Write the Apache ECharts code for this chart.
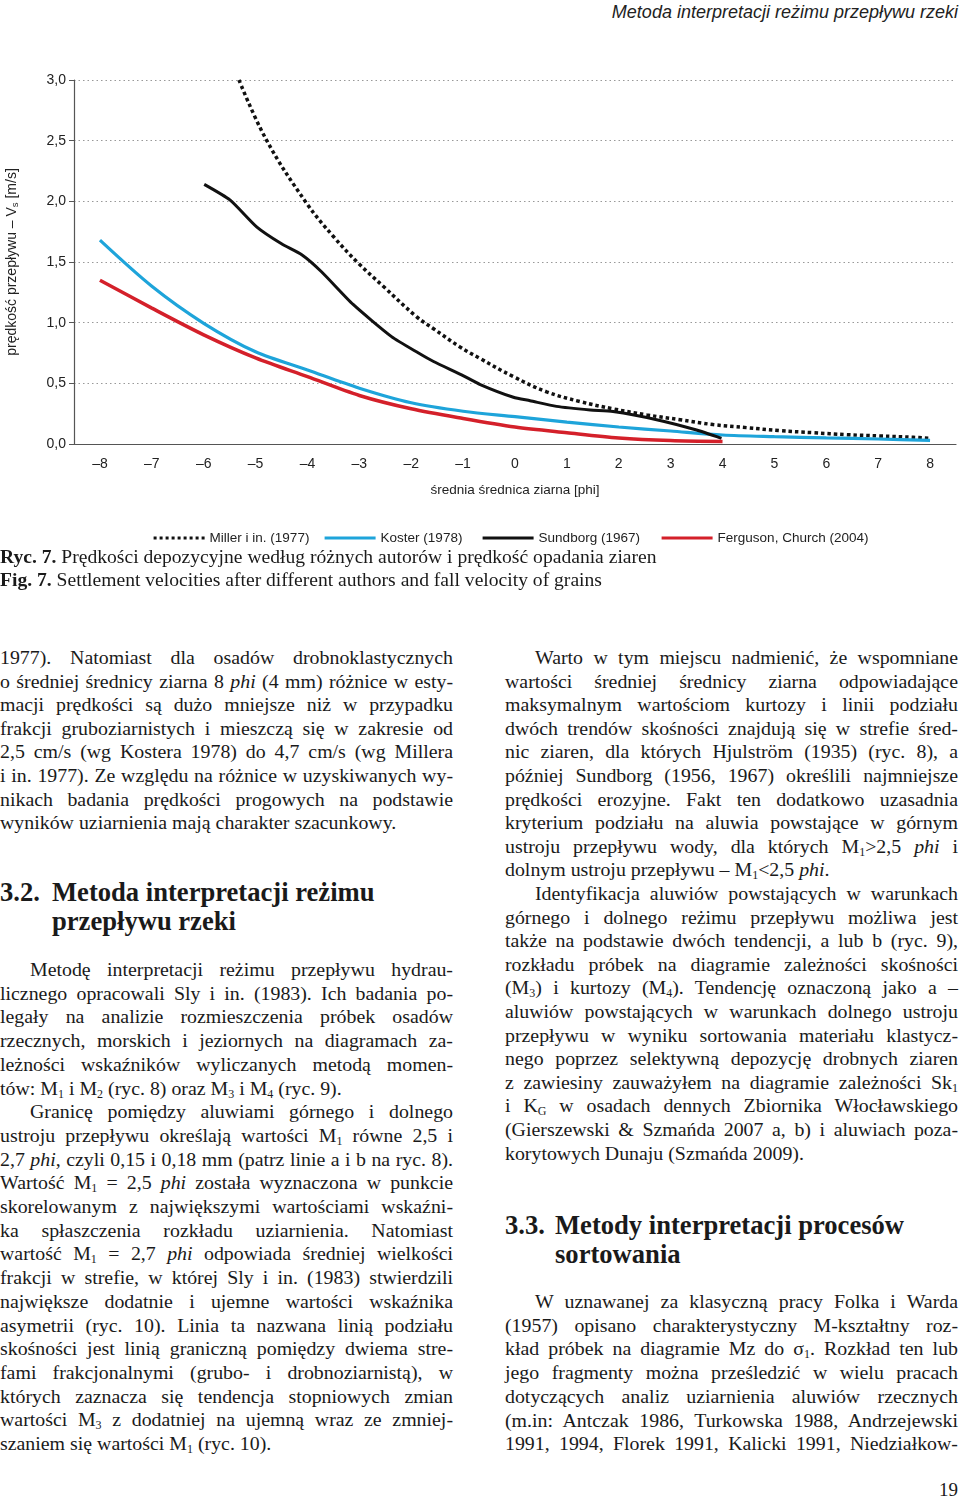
<!DOCTYPE html>
<html><head><meta charset="utf-8">
<script src="https://cdn.jsdelivr.net/npm/echarts@6/dist/echarts.min.js"></script>
<style>
html,body{margin:0;padding:0;background:#fff;}
body{width:960px;height:1499px;position:relative;overflow:hidden;font-family:"Liberation Serif","Times New Roman",serif;color:#1a1a1a;}
#chart{position:absolute;left:0;top:0;width:960px;height:610px;}
.hdr{position:absolute;right:2px;top:0;font:italic 18px "Liberation Sans",Arial,sans-serif;line-height:24px;color:#222;}
.ln{position:absolute;height:24px;line-height:24px;white-space:nowrap;text-align:justify;text-align-last:justify;}
.ln.last{text-align:left;text-align-last:left;}
.hd{position:absolute;font-weight:bold;font-size:26.6px;line-height:29px;white-space:nowrap;}
.cap{position:absolute;left:0;font-size:19.6px;line-height:23px;white-space:nowrap;}
sub{font-size:12px;vertical-align:-3px;line-height:0;}
.pg{position:absolute;right:2px;top:1478px;font-size:19px;line-height:24px;}
.meas{position:absolute;visibility:hidden;white-space:nowrap;left:0;top:0;}
</style>
</head><body>
<div class="hdr">Metoda interpretacji reżimu przepływu rzeki</div>
<div id="chart"></div>
<div class="cap" style="top:545px"><b>Ryc. 7.</b> Prędkości depozycyjne według różnych autorów i prędkość opadania ziaren</div>
<div class="cap" style="top:568px"><b>Fig. 7.</b> Settlement velocities after different authors and fall velocity of grains</div>
<div class="hd" style="left:0;top:878px">3.2.</div>
<div class="hd" style="left:52px;top:878px">Metoda interpretacji reżimu</div>
<div class="hd" style="left:52px;top:907px">przepływu rzeki</div>
<div class="hd" style="left:505px;top:1211px">3.3.</div>
<div class="hd" style="left:555px;top:1211px">Metody interpretacji procesów</div>
<div class="hd" style="left:555px;top:1240px">sortowania</div>
<div class="pg">19</div>
<div id="text"></div>
<script>
// ---- chart data ----
var xTickLabels = ['–8','–7','–6','–5','–4','–3','–2','–1','0','1','2','3','4','5','6','7','8'];

var millerPhi = [-5.32, -4.79, -4.01, -3.50, -3.02, -2.54, -1.90, -1.57, -1.06, -0.675, -0.03, 0.61, 1.25, 1.89, 2.54, 3.18, 3.82, 4.46, 5.11, 5.75, 6.39, 7.03, 7.68, 8.0];
var millerV   = [3.00, 2.505, 1.98, 1.71, 1.49, 1.30, 1.05, 0.95, 0.80, 0.705, 0.555, 0.43, 0.35, 0.29, 0.24, 0.20, 0.16, 0.135, 0.11, 0.093, 0.077, 0.066, 0.055, 0.047];

var kosterPhi = [-8, -7, -6, -5, -4, -3, -2, -1, 0, 1, 2, 3, 4, 5, 6, 7, 8];
var kosterV   = [1.68, 1.30, 0.995, 0.76, 0.61, 0.46, 0.34, 0.27, 0.225, 0.18, 0.14, 0.107, 0.074, 0.06, 0.05, 0.041, 0.03];

var sundborgPhi = [-5.99, -5.49, -4.98, -4.50, -4.11, -3.73, -3.12, -2.38, -1.86, -1.57, -1.03, -0.67, -0.03, 0.29, 0.80, 1.45, 1.89, 2.73, 3.50, 3.98];
var sundborgV   = [2.14, 2.01, 1.79, 1.65, 1.56, 1.42, 1.15, 0.885, 0.75, 0.68, 0.57, 0.49, 0.385, 0.357, 0.31, 0.28, 0.267, 0.20, 0.115, 0.047];

var fergusonPhi = [-8, -7, -6, -5, -4, -3, -2, -1, 0, 1, 2, 3, 4];
var fergusonV   = [1.35, 1.12, 0.90, 0.71, 0.555, 0.40, 0.29, 0.21, 0.14, 0.093, 0.05, 0.028, 0.02];

var seriesNames = ['Miller i in. (1977)', 'Koster (1978)', 'Sundborg (1967)', 'Ferguson, Church (2004)'];

function zip(a, b){ return a.map(function(v, i){ return [v, b[i]]; }); }

var chart = echarts.init(document.getElementById('chart'), null, {renderer:'canvas'});
var sans = '"Liberation Sans", Arial, sans-serif';
var legendLeft = [147, 318, 476, 655];
var legendDash = [[3,3], 'solid', 'solid', 'solid'];
chart.setOption({
  animation:false,
  grid:{left:74, right:4, top:80, height:364, containLabel:false, outerBoundsMode:'none'},
  legend: seriesNames.map(function(n, i){
    return {data:[n], left:legendLeft[i], top:526, itemWidth:51, itemHeight:14, itemGap:0,
      itemStyle:{opacity:0},
      lineStyle:{width:3.2, type:legendDash[i]},
      textStyle:{fontFamily:sans, fontSize:13.5, color:'#222'}};
  }),
  xAxis:[{
    type:'category', data:xTickLabels, boundaryGap:true, position:'bottom',
    axisLine:{onZero:false, lineStyle:{color:'#555', width:1.2}},
    axisTick:{length:6, lineStyle:{color:'#555'}},
    axisLabel:{fontFamily:sans, fontSize:14, color:'#222', margin:13},
    name:'średnia średnica ziarna [phi]', nameLocation:'middle', nameGap:39,
    nameTextStyle:{fontFamily:sans, fontSize:13.5, color:'#222'}
  },{
    type:'value', min:-8.5, max:8.5, show:false, axisLine:{show:false, onZero:false}
  }],
  yAxis:{
    type:'value', min:0, max:3, interval:0.5,
    axisLine:{show:true, onZero:false, lineStyle:{color:'#555', width:1.2}},
    axisTick:{show:true, length:5, lineStyle:{color:'#555'}},
    axisLabel:{fontFamily:sans, fontSize:14, color:'#222', margin:8,
      formatter:function(v){ return v.toFixed(1).replace('.', ','); }},
    splitLine:{show:true, lineStyle:{color:'#999', type:[1.5,3], width:1}},
    name:'{n|prędkość przepływu – V}{s|s}{n| [m/s]}', nameLocation:'middle', nameGap:54, nameRotate:90,
    nameTextStyle:{fontFamily:sans, fontSize:14, color:'#222',
      rich:{n:{fontFamily:sans, fontSize:14, color:'#222'}, s:{fontFamily:sans, fontSize:9.5, color:'#222', padding:[5,0,0,0]}}}
  },
  series:[
    {name:seriesNames[0], type:'line', xAxisIndex:1, data:zip(millerPhi, millerV), smooth:0.4, showSymbol:false, symbol:'none',
      lineStyle:{color:'#111', width:3.5, type:[3.5,3]}, itemStyle:{color:'#111'}},
    {name:seriesNames[1], type:'line', xAxisIndex:1, data:zip(kosterPhi, kosterV), smooth:0.3, showSymbol:false, symbol:'none',
      lineStyle:{color:'#1ea4da', width:3.2}, itemStyle:{color:'#1ea4da'}},
    {name:seriesNames[2], type:'line', xAxisIndex:1, data:zip(sundborgPhi, sundborgV), smooth:0.2, showSymbol:false, symbol:'none',
      lineStyle:{color:'#111', width:3}, itemStyle:{color:'#111'}},
    {name:seriesNames[3], type:'line', xAxisIndex:1, data:zip(fergusonPhi, fergusonV), smooth:0.3, showSymbol:false, symbol:'none',
      lineStyle:{color:'#d4202a', width:3.5}, itemStyle:{color:'#d4202a'}}
  ]
});

// ---- page text ----
var leftA = [
 '1977). Natomiast dla osadów drobnoklastycznych',
 'o średniej średnicy ziarna 8 <i>phi</i> (4 mm) różnice w esty-',
 'macji prędkości są dużo mniejsze niż w przypadku',
 'frakcji gruboziarnistych i mieszczą się w zakresie od',
 '2,5 cm/s (wg Kostera 1978) do 4,7 cm/s (wg Millera',
 'i in. 1977). Ze względu na różnice w uzyskiwanych wy-',
 'nikach badania prędkości progowych na podstawie',
 'wyników uziarnienia mają charakter szacunkowy.|'
];
var leftB = [
 '>Metodę interpretacji reżimu przepływu hydrau-',
 'licznego opracowali Sly i in. (1983). Ich badania po-',
 'legały na analizie rozmieszczenia próbek osadów',
 'rzecznych, morskich i jeziornych na diagramach za-',
 'leżności wskaźników wyliczanych metodą momen-',
 'tów: M<sub>1</sub> i M<sub>2</sub> (ryc. 8) oraz M<sub>3</sub> i M<sub>4</sub> (ryc. 9).|',
 '>Granicę pomiędzy aluwiami górnego i dolnego',
 'ustroju przepływu określają wartości M<sub>1</sub> równe 2,5 i',
 '2,7 <i>phi</i>, czyli 0,15 i 0,18 mm (patrz linie a i b na ryc. 8).',
 'Wartość M<sub>1</sub> = 2,5 <i>phi</i> została wyznaczona w punkcie',
 'skorelowanym z największymi wartościami wskaźni-',
 'ka spłaszczenia rozkładu uziarnienia. Natomiast',
 'wartość M<sub>1</sub> = 2,7 <i>phi</i> odpowiada średniej wielkości',
 'frakcji w strefie, w której Sly i in. (1983) stwierdzili',
 'największe dodatnie i ujemne wartości wskaźnika',
 'asymetrii (ryc. 10). Linia ta nazwana linią podziału',
 'skośności jest linią graniczną pomiędzy dwiema stre-',
 'fami frakcjonalnymi (grubo- i drobnoziarnistą), w',
 'których zaznacza się tendencja stopniowych zmian',
 'wartości M<sub>3</sub> z dodatniej na ujemną wraz ze zmniej-',
 'szaniem się wartości M<sub>1</sub> (ryc. 10).|'
];
var rightA = [
 '>Warto w tym miejscu nadmienić, że wspomniane',
 'wartości średniej średnicy ziarna odpowiadające',
 'maksymalnym wartościom kurtozy i linii podziału',
 'dwóch trendów skośności znajdują się w strefie śred-',
 'nic ziaren, dla których Hjulström (1935) (ryc. 8), a',
 'później Sundborg (1956, 1967) określili najmniejsze',
 'prędkości erozyjne. Fakt ten dodatkowo uzasadnia',
 'kryterium podziału na aluwia powstające w górnym',
 'ustroju przepływu wody, dla których M<sub>1</sub>&gt;2,5 <i>phi</i> i',
 'dolnym ustroju przepływu – M<sub>1</sub>&lt;2,5 <i>phi</i>.|',
 '>Identyfikacja aluwiów powstających w warunkach',
 'górnego i dolnego reżimu przepływu możliwa jest',
 'także na podstawie dwóch tendencji, a lub b (ryc. 9),',
 'rozkładu próbek na diagramie zależności skośności',
 '(M<sub>3</sub>) i kurtozy (M<sub>4</sub>). Tendencję oznaczoną jako a –',
 'aluwiów powstających w warunkach dolnego ustroju',
 'przepływu w wyniku sortowania materiału klastycz-',
 'nego poprzez selektywną depozycję drobnych ziaren',
 'z zawiesiny zauważyłem na diagramie zależności Sk<sub>1</sub>',
 'i K<sub>G</sub> w osadach dennych Zbiornika Włocławskiego',
 '(Gierszewski &amp; Szmańda 2007 a, b) i aluwiach poza-',
 'korytowych Dunaju (Szmańda 2009).|'
];
var rightB = [
 '>W uznawanej za klasyczną pracy Folka i Warda',
 '(1957) opisano charakterystyczny M-kształtny roz-',
 'kład próbek na diagramie Mz do σ<sub>1</sub>. Rozkład ten lub',
 'jego fragmenty można prześledzić w wielu pracach',
 'dotyczących analiz uziarnienia aluwiów rzecznych',
 '(m.in: Antczak 1986, Turkowska 1988, Andrzejewski',
 '1991, 1994, Florek 1991, Kalicki 1991, Niedziałkow-'
];
var host = document.getElementById('text');

// choose a body font size so the widest justified line fits the 453px column
var COLW = 453;
var meas = document.createElement('span');
meas.className = 'meas';
meas.style.fontSize = '20px';
document.body.appendChild(meas);
var maxRatio = 0;
[leftA, leftB, rightA, rightB].forEach(function(lines){
  lines.forEach(function(s){
    var ind = 0;
    if (s.charAt(0) === '>') { s = s.slice(1); ind = 30; }
    if (s.charAt(s.length-1) === '|') { s = s.slice(0, -1); }
    meas.innerHTML = s;
    var r = meas.getBoundingClientRect().width / (COLW - ind);
    if (r > maxRatio) maxRatio = r;
  });
});
var bodySize = Math.min(21, 20 / maxRatio * 0.985);
document.body.removeChild(meas);

function block(lines, x, w, centerY0, lh){
  lines.forEach(function(s, i){
    var d = document.createElement('div');
    d.className = 'ln';
    d.style.fontSize = bodySize + 'px';
    var ind = 0;
    if (s.charAt(0) === '>') { s = s.slice(1); ind = 30; }
    if (s.charAt(s.length-1) === '|') { s = s.slice(0, -1); d.className += ' last'; }
    d.style.left = (x + ind) + 'px';
    d.style.width = (w - ind) + 'px';
    d.style.top = (centerY0 + i*lh - 12) + 'px';
    d.innerHTML = s;
    host.appendChild(d);
  });
}
block(leftA, 0, COLW, 657, 23.6);
block(leftB, 0, COLW, 969, 23.7);
block(rightA, 505, COLW, 657, 23.6);
block(rightB, 505, COLW, 1301, 23.7);
</script>
</body></html>
